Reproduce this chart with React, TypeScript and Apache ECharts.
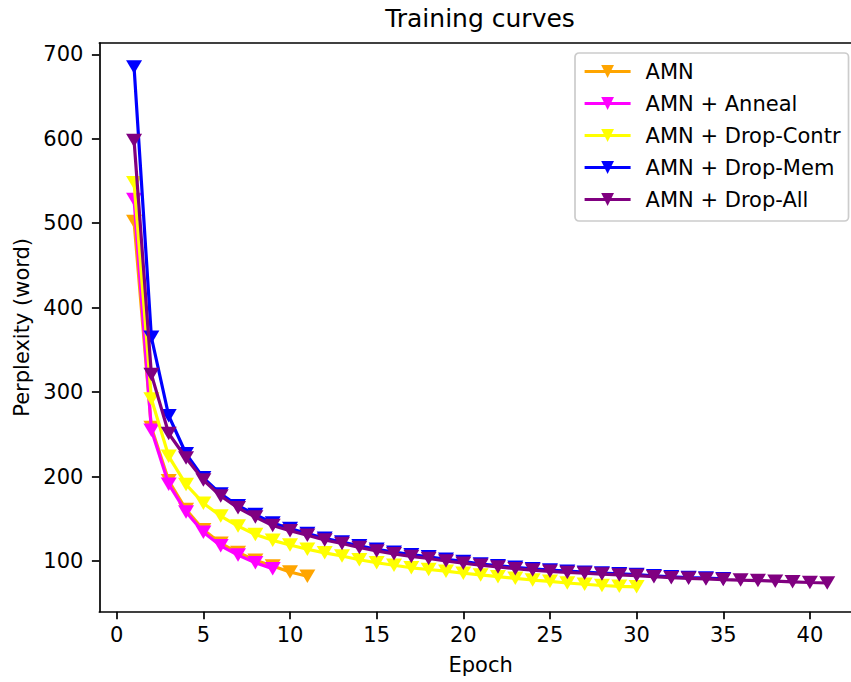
import React, { useEffect, useRef } from "react";
import * as echarts from "echarts";

// Epoch-wise perplexity for each model variant (epochs start at 1)
const seriesNames = [
  "AMN",
  "AMN + Anneal",
  "AMN + Drop-Contr",
  "AMN + Drop-Mem",
  "AMN + Drop-All",
];
const seriesColors = ["#FFA500", "#FF00FF", "#FFFF00", "#0000FF", "#800080"];

const amn = [502, 258, 195, 161, 137, 121, 110, 101, 94, 87, 82];
const amnAnneal = [528, 255, 191, 158, 134, 118, 107, 98, 91];
const amnDropContr = [
  548, 292, 224, 190.6, 168.5, 153.3, 141.4, 131.4, 124.5, 119, 114, 109.7, 106,
  101.5, 98, 95, 92, 90, 88, 85.5, 83.5, 81.5, 79.5, 77.5, 76, 74, 72.5, 71, 70,
  69.5,
];
const amnDropMem = [
  685, 365, 272, 227, 198.5, 179.5, 165.5, 155, 145, 138.5, 132.5, 127, 122.5,
  118, 114, 110.5, 107.5, 105, 102, 99.5, 96.5, 94.5, 92.5, 90.8, 89.3, 88,
  86.8, 85.8, 84.8, 84, 82.5, 81.3, 80.5, 79.8, 79,
];
const amnDropAll = [
  598, 321, 251, 222, 196, 177, 163, 152, 142, 136, 130.5, 125, 120.7, 116, 112,
  108.5, 105.5, 103, 100, 97.5, 95, 93, 91, 89.3, 87.8, 86.5, 85.5, 84.5, 83.5,
  82.8, 81.5, 80.3, 79.5, 78.8, 78, 77.4, 76.9, 76.2, 75.4, 74.6, 74,
];
const seriesValues = [amn, amnAnneal, amnDropContr, amnDropMem, amnDropAll];

const xTicks = [0, 5, 10, 15, 20, 25, 30, 35, 40];
const yTicks = [100, 200, 300, 400, 500, 600, 700];

const FONT = "DejaVu Sans";
const X_MIN = -1;
const X_MAX = 43;

export default function App() {
  const ref = useRef<HTMLDivElement>(null);

  useEffect(() => {
    document.body.style.margin = "0";
    document.body.style.overflow = "hidden";
    if (!ref.current) return;
    const chart = echarts.init(ref.current, null, { renderer: "svg" });

    const series = seriesNames.map((name, i) => ({
      name,
      type: "line",
      xAxisIndex: 0,
      data: seriesValues[i].map((v, k) => [k + 1, v]),
      symbol: "triangle",
      symbolRotate: 180,
      symbolSize: [16, 13.5],
      showSymbol: true,
      lineStyle: { color: seriesColors[i], width: 3.2 },
      itemStyle: { color: seriesColors[i], borderWidth: 0 },
      z: 2 + i,
    }));

    const spine = { color: "#000", width: 1.7 };

    chart.setOption({
      animation: false,
      backgroundColor: "#ffffff",
      textStyle: { fontFamily: FONT },
      title: {
        text: "Training curves",
        left: 480,
        top: 6,
        textAlign: "center",
        padding: 0,
        textStyle: {
          fontFamily: FONT,
          fontSize: 25,
          fontWeight: "normal",
          color: "#000",
        },
      },
      legend: {
        orient: "vertical",
        left: 575,
        top: 53,
        padding: [8, 8, 11, 8],
        itemWidth: 46,
        itemHeight: 16,
        itemGap: 11,
        backgroundColor: "rgba(255,255,255,0.8)",
        borderColor: "#cccccc",
        borderWidth: 1.7,
        borderRadius: 4,
        lineStyle: { width: 3.2 },
        textStyle: {
          fontFamily: FONT,
          fontSize: 21,
          color: "#000",
          padding: [0, 0, 0, 10],
        },
        data: seriesNames,
      },
      grid: {
        left: 99.4,
        top: 43,
        width: 762.5,
        height: 568.7,
        outerBoundsMode: "none",
        containLabel: false,
        show: false,
      },
      xAxis: [
        {
          type: "value",
          min: X_MIN,
          max: X_MAX,
          position: "bottom",
          name: "Epoch",
          nameLocation: "middle",
          nameGap: 43,
          nameTextStyle: { fontFamily: FONT, fontSize: 21, color: "#000" },
          axisLine: { lineStyle: spine },
          axisTick: {
            inside: false,
            length: 7.5,
            lineStyle: spine,
            customValues: xTicks,
          },
          axisLabel: {
            fontFamily: FONT,
            fontSize: 21,
            color: "#000",
            margin: 13,
            customValues: xTicks,
          },
          splitLine: { show: false },
        },
        {
          // top spine of the frame
          type: "value",
          min: X_MIN,
          max: X_MAX,
          position: "top",
          axisLine: { show: true, onZero: false, lineStyle: spine },
          axisTick: { show: false },
          axisLabel: { show: false },
          splitLine: { show: false },
        },
      ],
      yAxis: {
        type: "value",
        min: 40,
        max: 713.4,
        name: "Perplexity (word)",
        nameLocation: "middle",
        nameGap: 65,
        nameTextStyle: { fontFamily: FONT, fontSize: 21, color: "#000" },
        axisLine: { show: true, onZero: false, lineStyle: spine },
        axisTick: {
          show: true,
          inside: false,
          length: 7.5,
          lineStyle: spine,
          customValues: yTicks,
        },
        axisLabel: {
          fontFamily: FONT,
          fontSize: 21,
          color: "#000",
          margin: 16,
          customValues: yTicks,
        },
        splitLine: { show: false },
      },
      series,
    });

    return () => chart.dispose();
  }, []);

  return (
    <div
      ref={ref}
      style={{ width: 851, height: 682, overflow: "hidden" }}
    />
  );
}
